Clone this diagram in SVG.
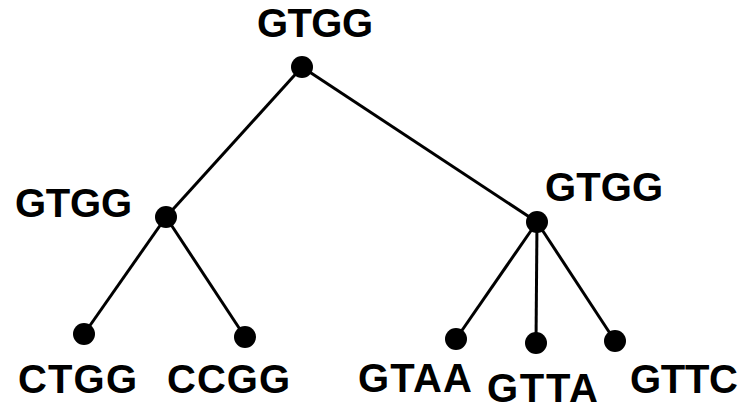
<svg xmlns="http://www.w3.org/2000/svg" width="745" height="406" viewBox="0 0 745 406">
<style>
.e{stroke:#000;stroke-width:3;fill:none}
.d{fill:#000}
.t{font-family:"Liberation Sans",Arial,sans-serif;font-weight:bold;font-size:40px;fill:#000}
</style>
<rect width="745" height="406" fill="#fff"/>
<g id="connectors">
<line class="e" x1="302" y1="67" x2="166" y2="217"/>
<line class="e" x1="302" y1="67" x2="537" y2="222"/>
<line class="e" x1="166" y1="217" x2="84" y2="334"/>
<line class="e" x1="166" y1="217" x2="245" y2="337"/>
<line class="e" x1="537" y1="222" x2="456" y2="339"/>
<line class="e" x1="537" y1="222" x2="536" y2="343"/>
<line class="e" x1="537" y1="222" x2="615" y2="341"/>
</g>
<g id="root"><circle class="d" cx="302" cy="67" r="11"/><text class="t" x="257" y="37" textLength="116">GTGG</text></g>
<g id="left"><circle class="d" cx="166" cy="217" r="11"/><text class="t" x="15" y="217" textLength="117">GTGG</text></g>
<g id="right"><circle class="d" cx="537" cy="222" r="11"/><text class="t" x="545" y="201" textLength="118">GTGG</text></g>
<g id="ctgg"><circle class="d" cx="84" cy="334" r="11"/><text class="t" x="18" y="393" textLength="119">CTGG</text></g>
<g id="ccgg"><circle class="d" cx="245" cy="337" r="11"/><text class="t" x="167" y="393" textLength="123">CCGG</text></g>
<g id="gtaa"><circle class="d" cx="456" cy="339" r="11"/><text class="t" x="358" y="392" textLength="114">GTAA</text></g>
<g id="gtta"><circle class="d" cx="536" cy="343" r="11"/><text class="t" x="487" y="402" textLength="111">GTTA</text></g>
<g id="gttc"><circle class="d" cx="615" cy="341" r="11"/><text class="t" x="630" y="393" textLength="108">GTTC</text></g>
</svg>
